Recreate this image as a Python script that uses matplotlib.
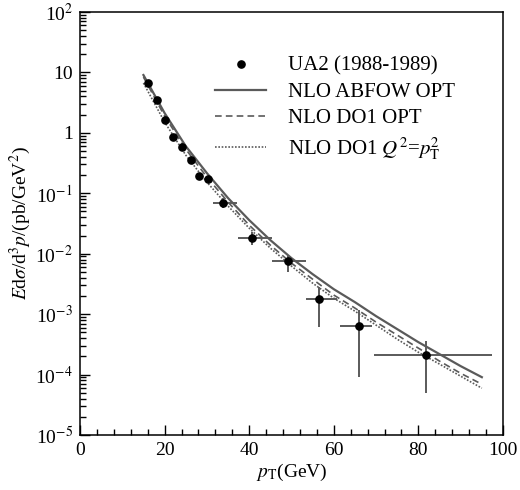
import numpy as np
import matplotlib
matplotlib.use('Agg')
from matplotlib import pyplot as plt
from matplotlib.ticker import LogLocator, MultipleLocator, NullFormatter

plt.rcParams['font.family'] = ['Liberation Serif', 'DejaVu Serif']
plt.rcParams['mathtext.fontset'] = 'stix'

# UA2 (1988-1989) measured points
pt_data = [16.1, 18.2, 20.1, 22.0, 24.1, 26.2, 28.1, 30.3, 33.8, 40.7, 49.2, 56.5, 66.0, 81.8]
sig_data = [6.7, 3.5, 1.63, 0.85, 0.58, 0.355, 0.193, 0.172, 0.0689, 0.0181, 0.00754, 0.00178, 6.3e-4, 2.09e-4]
# pT bin edges
pt_lo = [16.1, 18.2, 20.1, 22.0, 24.1, 26.2, 28.1, 30.3, 31.4, 37.4, 45.4, 53.4, 61.5, 69.5]
pt_hi = [16.1, 18.2, 20.1, 22.0, 24.1, 26.2, 28.1, 30.3, 37.1, 45.4, 53.4, 60.8, 69.0, 97.4]
# error band on the cross section
sig_lo = [6.7, 3.5, 1.63, 0.85, 0.58, 0.355, 0.193, 0.172, 0.0569, 0.0138, 0.0050, 6.1e-4, 9.1e-5, 4.9e-5]
sig_hi = [6.7, 3.5, 1.63, 0.85, 0.58, 0.355, 0.193, 0.172, 0.0832, 0.0229, 0.0095, 0.00282, 0.00117, 3.55e-4]

# NLO predictions
pt_th = [15, 20, 25, 30, 35, 40, 45, 50, 55, 60, 65, 70, 75, 80, 85, 90, 95]
abfow_opt = [9.06, 2.13, 0.604, 0.216, 0.0834, 0.0360, 0.0168, 0.00845, 0.00459, 0.00259,
             0.00158, 9.27e-4, 5.65e-4, 3.44e-4, 2.18e-4, 1.38e-4, 9.06e-5]
do1_opt = [8.39, 1.90, 0.538, 0.185, 0.0716, 0.0297, 0.01387, 0.00698, 0.00379, 0.00207,
           0.00126, 7.38e-4, 4.50e-4, 2.74e-4, 1.67e-4, 1.05e-4, 6.93e-5]
do1_q2 = [6.68, 1.51, 0.429, 0.153, 0.0615, 0.0265, 0.01239, 0.00624, 0.00326, 0.00184,
          0.00112, 6.58e-4, 3.85e-4, 2.34e-4, 1.49e-4, 9.40e-5, 5.96e-5]

ytick_vals = [1e-5, 1e-4, 1e-3, 1e-2, 1e-1, 1, 10, 100]
ytick_labels = ['10$^{-5}$', '10$^{-4}$', '10$^{-3}$', '10$^{-2}$', '10$^{-1}$', '1', '10', '10$^{2}$']

fig = plt.figure(figsize=(5.2, 4.9), dpi=100)
ax = fig.add_axes([0.1538, 0.1122, 0.8135, 0.8633])

grey = '#5a5a5a'
ax.plot(pt_th, abfow_opt, color=grey, lw=1.6, ls='-', label='NLO ABFOW OPT')
ax.plot(pt_th, do1_opt, color=grey, lw=1.2, ls=(0, (4, 2.5)), label='NLO DO1 OPT')
ax.plot(pt_th, do1_q2, color=grey, lw=1.2, ls=(0, (1, 1)), label=r'NLO DO1 $Q^2$=$p_\mathrm{T}^2$')

x = np.array(pt_data)
y = np.array(sig_data)
xerr = [x - np.array(pt_lo), np.array(pt_hi) - x]
yerr = [y - np.array(sig_lo), np.array(sig_hi) - y]
ax.errorbar(x, y, xerr=xerr, yerr=yerr, fmt='none', ecolor=grey, elinewidth=1.4, capsize=0)
ax.plot(x, y, 'o', color='black', markersize=5.2, label='UA2 (1988-1989)')

ax.set_yscale('log')
ax.set_xlim(0, 100)
ax.set_ylim(1e-5, 1e2)
ax.set_xticks([0, 20, 40, 60, 80, 100])
ax.xaxis.set_minor_locator(MultipleLocator(4))
ax.set_yticks(ytick_vals, ytick_labels)
ax.yaxis.set_minor_locator(LogLocator(base=10, subs=np.arange(2, 10)))
ax.yaxis.set_minor_formatter(NullFormatter())
ax.tick_params(which='both', direction='in', top=False, right=False, labelsize=14, width=1)
ax.tick_params(which='major', length=7.5, pad=5)
ax.tick_params(which='minor', length=4)
for s in ax.spines.values():
    s.set_linewidth(1.1)

ax.set_xlabel(r'$p_\mathrm{T}$(GeV)', fontsize=14, labelpad=2)
ax.set_ylabel(r'$E$d$\sigma$/d$^3$$p$/(pb/GeV$^2$)', fontsize=14, labelpad=2)

h, l = ax.get_legend_handles_labels()
order = [3, 0, 1, 2]
ax.legend([h[i] for i in order], [l[i] for i in order], loc='upper left',
          bbox_to_anchor=(0.295, 0.92), frameon=False, fontsize=15,
          handlelength=2.45, handletextpad=1.05, labelspacing=0.32, borderpad=0)

fig.savefig('out.png', dpi=100)
